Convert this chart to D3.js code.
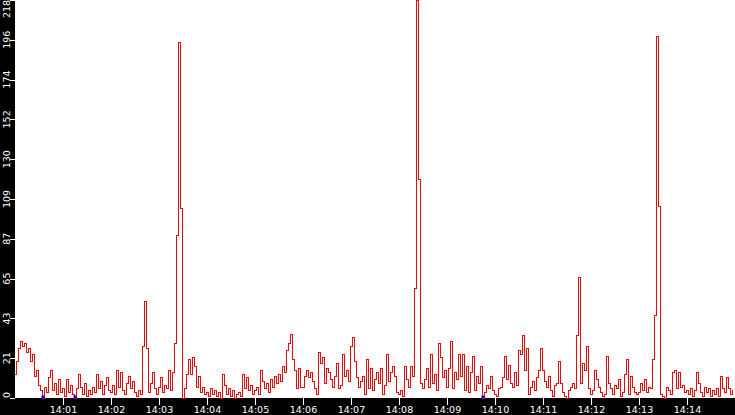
<!DOCTYPE html>
<html lang="en">
<head>
    <meta charset="UTF-8">
    <title>Rate</title>
    <script src="https://cdn.jsdelivr.net/npm/d3@7"></script>
    <style>
        html, body { margin: 0; padding: 0; background: #000; }
        svg { display: block; }
    </style>
</head>
<body>
    <div id="chart"></div>
    <script>
        // samples every 2.5 s starting 14:00:00, one array per minute
        let min00 = [13, 20, 27, 31, 28, 30, 25, 27, 20, 24, 12, 15, 7, 4, 0, 6, 3, 11, 15, 4, 8, 2, 10, 3]
        let min01 = [5, 1, 10, 3, 7, 2, 0, 5, 13, 6, 2, 8, 1, 4, 2, 6, 3, 13, 5, 9, 2, 7, 11, 4]
        let min02 = [3, 7, 2, 15, 6, 14, 4, 2, 8, 12, 5, 9, 3, 1, 4, 2, 28, 53, 27, 3, 8, 14, 5, 2]
        let min03 = [6, 11, 3, 7, 5, 15, 4, 14, 30, 89, 195, 104, 0, 5, 13, 21, 13, 22, 17, 6, 12, 3, 6, 2]
        let min04 = [3, 1, 5, 2, 4, 1, 3, 0, 13, 7, 2, 5, 1, 4, 0, 2, 3, 1, 13, 5, 11, 4, 7, 2]
        let min05 = [4, 6, 2, 15, 9, 5, 8, 3, 10, 6, 12, 8, 13, 9, 17, 14, 26, 30, 35, 21, 15, 5, 16, 6]
        let min06 = [6, 12, 15, 11, 14, 9, 5, 2, 25, 19, 22, 8, 16, 14, 10, 6, 12, 19, 5, 7, 24, 12, 15, 9]
        let min07 = [28, 33, 20, 11, 6, 9, 12, 2, 21, 5, 16, 4, 10, 14, 8, 16, 2, 7, 24, 9, 14, 17, 12, 3]
        let min08 = [2, 4, 1, 17, 10, 6, 17, 12, 60, 218, 120, 8, 5, 10, 16, 6, 24, 8, 13, 4, 30, 22, 11, 15]
        let min09 = [6, 16, 31, 5, 14, 10, 24, 12, 24, 4, 17, 3, 14, 23, 4, 12, 8, 17, 0, 3, 7, 5, 12, 4]
        let min10 = [2, 1, 5, 6, 11, 23, 10, 18, 8, 6, 14, 7, 26, 24, 34, 15, 27, 2, 6, 9, 4, 11, 15, 27]
        let min11 = [15, 9, 6, 12, 4, 1, 7, 8, 20, 8, 3, 1, 0, 4, 6, 8, 5, 34, 66, 8, 19, 15, 28, 5]
        let min12 = [2, 4, 15, 10, 6, 3, 1, 2, 23, 8, 5, 2, 7, 5, 10, 1, 3, 13, 21, 2, 12, 6, 3, 2]
        let min13 = [3, 8, 4, 10, 3, 6, 5, 21, 45, 198, 105, 2, 1, 0, 6, 4, 2, 14, 15, 5, 14, 6, 7, 3]
        let min14 = [4, 2, 5, 1, 4, 14, 8, 3, 1, 6, 3, 5, 1, 4, 2, 5, 1, 12, 5, 3, 11, 5, 2, 4]

        // the few blue marks sitting on the zero line
        let blueTimes = ['14:00:35', '14:01:15', '14:09:45']

        let xTickLabels = ['14:01', '14:02', '14:03', '14:04', '14:05', '14:06', '14:07',
                           '14:08', '14:09', '14:10', '14:11', '14:12', '14:13', '14:14']
        let yTickLabels = ['0', '21', '43', '65', '87', '109', '130', '152', '174', '196', '218']
        let yMax = 218.2

        let w = 735
        let h = 415
        let left = 15
        let bottom = 398

        let parseTime = d3.timeParse('%H:%M:%S')
        let start = parseTime('14:00:00')
        let end = parseTime('14:15:00')

        let values = [].concat(min00, min01, min02, min03, min04, min05, min06, min07,
                               min08, min09, min10, min11, min12, min13, min14)
        let data = values.map((v, i) => ({ t: new Date(start.getTime() + i * 2500), v: v }))

        let xScale = d3.scaleTime()
                       .domain([start, end])
                       .range([left, w])
        let yScale = d3.scaleLinear()
                       .domain([0, yMax])
                       .range([bottom, 0])

        let svg = d3.select('#chart').append('svg')
                    .attr('width', w)
                    .attr('height', h)

        svg.append('rect')
           .attr('width', w)
           .attr('height', h)
           .attr('fill', '#000')

        svg.append('rect')
           .attr('x', left)
           .attr('y', 0)
           .attr('width', w - left)
           .attr('height', bottom)
           .attr('fill', '#fff')

        //x-axis: ticks hang down into the black strip
        let xTicks = xTickLabels.map(s => parseTime(s + ':00'))
        let xAxis = d3.axisBottom(xScale)
                      .tickValues(xTicks)
                      .tickFormat((d, i) => xTickLabels[i])
                      .tickSizeOuter(0)
                      .tickSize(7)
                      .tickPadding(1)
        let gx = svg.append('g')
                    .attr('id', 'x-axis')
                    .attr('transform', `translate(0,${bottom})`)
                    .call(xAxis)
        gx.select('.domain').remove()
        gx.selectAll('line').attr('stroke', '#fff').attr('shape-rendering', 'crispEdges')
        gx.selectAll('text')
          .attr('fill', '#fff')
          .attr('font-family', 'DejaVu Sans')
          .attr('font-size', 9.5)

        //y-axis: rotated labels in the left strip
        let yTicks = yTickLabels.map((s, i) => yMax * i / 10)
        let gy = svg.append('g').attr('id', 'y-axis')
        gy.selectAll('line')
          .data(yTicks)
          .enter()
          .append('line')
          .attr('x1', 10)
          .attr('x2', left)
          .attr('y1', d => Math.round(yScale(d)) + 0.5)
          .attr('y2', d => Math.round(yScale(d)) + 0.5)
          .attr('stroke', '#fff')
          .attr('shape-rendering', 'crispEdges')
        gy.selectAll('text')
          .data(yTicks)
          .enter()
          .append('text')
          .text((d, i) => yTickLabels[i])
          .attr('font-family', 'DejaVu Sans')
          .attr('font-size', 9.5)
          .attr('fill', '#fff')
          .attr('text-anchor', 'middle')
          .attr('transform', (d, i) => {
              // keep the label inside the strip at both ends
              let half = yTickLabels[i].length * 3
              let cy = Math.max(half, Math.min(bottom - half, yScale(d)))
              return `translate(10,${cy}) rotate(-90)`
          })

        // stepped line, drawn without smoothing like the original plot
        let line = d3.line()
                     .x(d => xScale(d.t))
                     .y(d => yScale(d.v))
                     .curve(d3.curveStep)

        svg.append('path')
           .datum(data)
           .attr('d', line)
           .attr('fill', 'none')
           .attr('stroke', '#ff0000')
           .attr('stroke-width', 1)
           .attr('shape-rendering', 'crispEdges')

        svg.selectAll('rect.blue')
           .data(blueTimes)
           .enter()
           .append('rect')
           .attr('class', 'blue')
           .attr('x', d => xScale(parseTime(d)) - 1.5)
           .attr('y', yScale(0) - 2.5)
           .attr('width', 3)
           .attr('height', 3)
           .attr('fill', '#0000ff')
    </script>
</body>
</html>
